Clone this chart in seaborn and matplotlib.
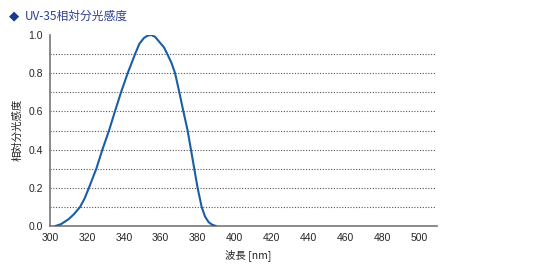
import matplotlib
matplotlib.use("Agg")
import matplotlib.pyplot as plt
import seaborn as sns
import pandas as pd

# Data
wavelength = [303, 306, 310, 313, 316.3, 318.8, 321.1, 325.1, 328.4, 332.0, 335.2, 338.5, 342.1,
              346.1, 348.5, 351, 353, 355, 357, 359.6, 361.8, 363.6, 365.8, 367.8, 370.1,
              372.3, 374.6, 376.4, 378.2, 380.0, 382.2, 384, 386, 388, 390]
sensitivity = [0.0, 0.01, 0.035, 0.062, 0.1, 0.145, 0.2, 0.3, 0.4, 0.5, 0.6, 0.7, 0.8,
               0.9, 0.955, 0.985, 0.997, 1.0, 0.99, 0.96, 0.935, 0.9, 0.855, 0.8, 0.7,
               0.6, 0.5, 0.4, 0.3, 0.2, 0.1, 0.05, 0.02, 0.006, 0.0]
x_ticks = [300, 320, 340, 360, 380, 400, 420, 440, 460, 480, 500]
y_ticks = [0.0, 0.2, 0.4, 0.6, 0.8, 1.0]
grid_levels = [0.1, 0.2, 0.3, 0.4, 0.5, 0.6, 0.7, 0.8, 0.9]
title_text = "UV-35相対分光感度"
x_label = "波長 [nm]"
y_label = "相対分光感度"

df = pd.DataFrame({"wl": wavelength, "s": sensitivity})

sns.set_style("white")
plt.rcParams['font.family'] = ['Noto Sans CJK JP', 'DejaVu Sans']

fig = plt.figure(figsize=(5.42, 2.69), dpi=100)
ax = fig.add_axes([50/542, 1-226/269, (436.5-50)/542, (226-35)/269])

for g in grid_levels:
    ax.axhline(g, color="#555555", lw=0.8, ls=(0, (1, 1.5)), zorder=1)

sns.lineplot(data=df, x="wl", y="s", ax=ax, color="#1a5ea6", lw=1.5, zorder=3)

ax.set_xlim(300, 509.5)
ax.set_ylim(0, 1.0)
ax.set_xticks(x_ticks)
ax.set_yticks(y_ticks)
ax.set_xticklabels([str(t) for t in x_ticks], fontsize=7.5, family=['Liberation Sans', 'DejaVu Sans'])
ax.set_yticklabels([f"{t:.1f}" for t in y_ticks], fontsize=7.5, family=['Liberation Sans', 'DejaVu Sans'])
ax.tick_params(axis="x", direction="in", length=3, width=0.8, color="#777777", pad=5)
ax.tick_params(axis="y", length=0, pad=5)
for side in ["top", "right"]:
    ax.spines[side].set_visible(False)
for side in ["left", "bottom"]:
    ax.spines[side].set_color("#777777")
    ax.spines[side].set_linewidth(1.2)

ax.set_xlabel("")
ax.set_ylabel("")
fig.text(248/542, 1-255/269, x_label, ha="center", va="center", fontsize=7.5, color="#222222")
fig.text(17/542, 1-130/269, y_label, ha="center", va="center", rotation=90, fontsize=7.5, color="#222222")
fig.text(14/542, 1-16/269, "◆", ha="center", va="center", fontsize=9.5, color="#1a3a8c",
         family=['DejaVu Sans'])
fig.text(25/542, 1-16/269, title_text, ha="left", va="center", fontsize=8.5, color="#2b3f92")

fig.savefig("out.png", dpi=100)
